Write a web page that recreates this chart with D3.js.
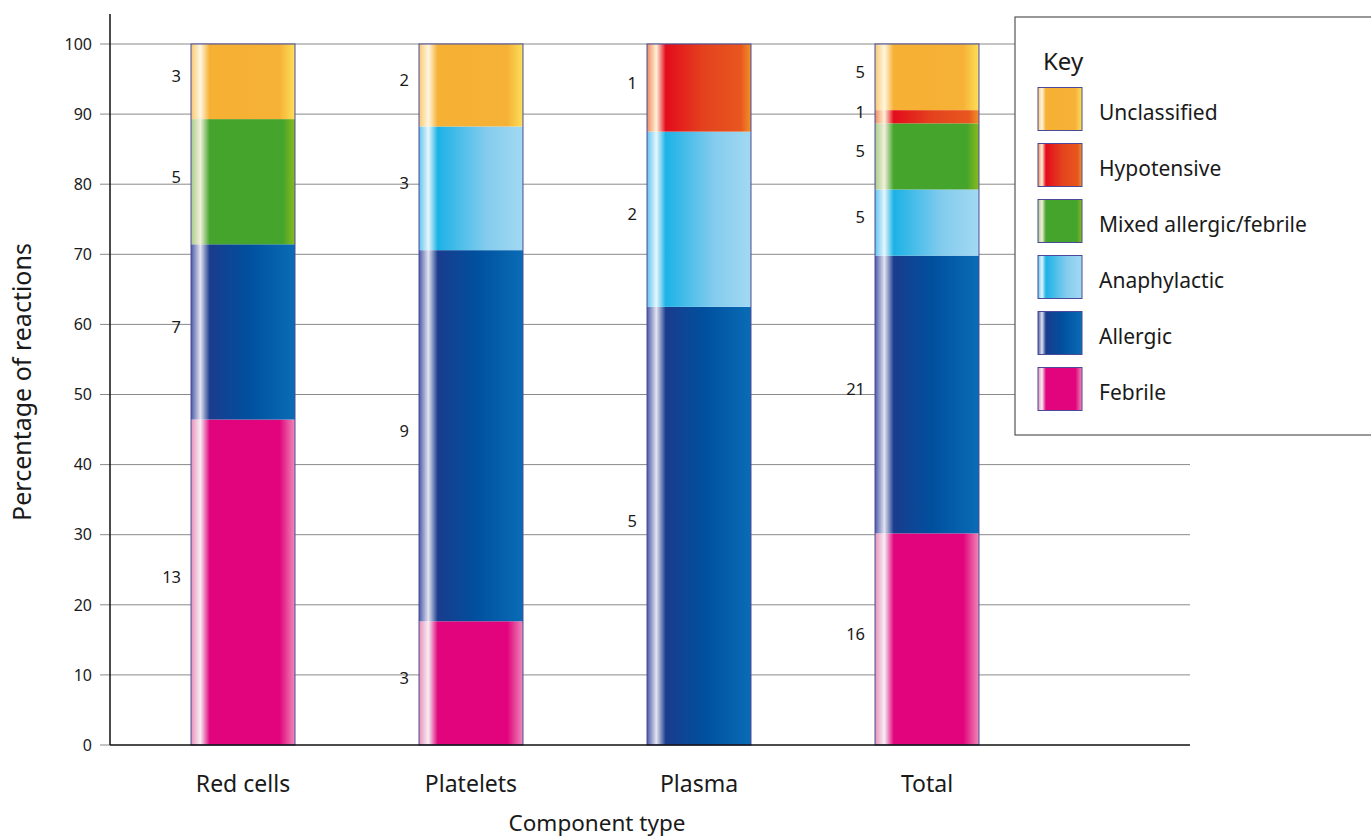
<!DOCTYPE html>
<html>
<head>
<meta charset="utf-8">
<script src="https://cdn.jsdelivr.net/npm/d3@7"></script>
<style>
  body { margin: 0; background: #fff; }
  text { font-family: "Noto Sans", "Open Sans", sans-serif; fill: #1a1a1a; }
</style>
</head>
<body>
<div id="chartRegion"></div>
<script>
/* data (counts of reactions) */
var components = ["Red cells", "Platelets", "Plasma", "Total"];
var reactionTypes = ["Febrile", "Allergic", "Anaphylactic", "Mixed allergic/febrile", "Hypotensive", "Unclassified"];
var febrile      = [13, 3, 0, 16];
var allergic     = [7, 9, 5, 21];
var anaphylactic = [0, 3, 2, 5];
var mixed        = [5, 0, 0, 5];
var hypotensive  = [0, 0, 1, 1];
var unclassified = [3, 2, 0, 5];
var yTicks = [0, 10, 20, 30, 40, 50, 60, 70, 80, 90, 100];

/* colour stops for the shiny bar look, left to right */
var shine = {
  "Febrile":                [["0%", "#e890b8"], ["9%", "#f6eef4"], ["18%", "#e2047c"], ["85%", "#e2047c"], ["100%", "#ee8ab8"]],
  "Allergic":               [["0%", "#4a5aa8"], ["9%", "#e4e4f0"], ["18%", "#1a3c8e"], ["55%", "#00509e"], ["100%", "#0a6cb6"]],
  "Anaphylactic":           [["0%", "#60c4ee"], ["9%", "#e6f6fd"], ["18%", "#1cb2e6"], ["65%", "#84ccee"], ["100%", "#a2d9f2"]],
  "Mixed allergic/febrile": [["0%", "#a8cc88"], ["9%", "#f2f0dc"], ["18%", "#44a42c"], ["88%", "#44a42c"], ["100%", "#8cba1e"]],
  "Hypotensive":            [["0%", "#ee8a60"], ["9%", "#fff2d8"], ["18%", "#e30c1c"], ["55%", "#e4421e"], ["90%", "#e8561e"], ["100%", "#f0922a"]],
  "Unclassified":           [["0%", "#f8c870"], ["9%", "#fff6e0"], ["18%", "#f6b034"], ["85%", "#f6b236"], ["100%", "#fde05a"]]
};

var seriesByType = {
  "Febrile": febrile, "Allergic": allergic, "Anaphylactic": anaphylactic,
  "Mixed allergic/febrile": mixed, "Hypotensive": hypotensive, "Unclassified": unclassified
};

function plotChart() {
  var width = 1371, height = 838;
  var svg = d3.select("#chartRegion").append("svg").attr("width", width).attr("height", height);

  var defs = svg.append("defs");
  reactionTypes.forEach(function(t, i) {
    var g = defs.append("linearGradient").attr("id", "grad" + i)
      .attr("x1", "0%").attr("x2", "100%").attr("y1", "0%").attr("y2", "0%");
    shine[t].forEach(function(s) {
      g.append("stop").attr("offset", s[0]).attr("stop-color", s[1]);
    });
  });

  var x = d3.scaleBand().domain(components).range([129, 1041]).paddingInner(0.544).paddingOuter(0.272);
  var y = d3.scaleLinear().domain([0, 100]).range([745, 44]);

  /* gridlines + ticks */
  svg.append("g").selectAll("line").data(yTicks.slice(1)).enter().append("line")
    .attr("x1", 100).attr("x2", 1190)
    .attr("y1", function(d) { return y(d); }).attr("y2", function(d) { return y(d); })
    .attr("stroke", "#8a8a8a").attr("stroke-width", 1);
  svg.append("line").attr("x1", 100).attr("x2", 110).attr("y1", y(0)).attr("y2", y(0))
    .attr("stroke", "#8a8a8a");

  svg.append("g").selectAll("text").data(yTicks).enter().append("text")
    .attr("x", 92).attr("y", function(d) { return y(d); }).attr("dy", "0.36em")
    .attr("text-anchor", "end").style("font-size", "16px")
    .text(function(d) { return d; });

  /* stack the percentages */
  var rows = components.map(function(c, ci) {
    var row = { component: c };
    var total = 0;
    reactionTypes.forEach(function(t) { total += seriesByType[t][ci]; });
    reactionTypes.forEach(function(t) { row[t] = seriesByType[t][ci] / total * 100; row[t + "_n"] = seriesByType[t][ci]; });
    return row;
  });
  var stacked = d3.stack().keys(reactionTypes)(rows);

  var layers = svg.append("g").selectAll("g").data(stacked).enter().append("g")
    .attr("fill", function(d, i) { return "url(#grad" + i + ")"; });

  layers.selectAll("rect").data(function(d) { return d.filter(function(s) { return s[1] - s[0] > 0; }); })
    .enter().append("rect")
    .attr("x", function(d) { return x(d.data.component); })
    .attr("width", x.bandwidth())
    .attr("y", function(d) { return y(d[1]); })
    .attr("height", function(d) { return y(d[0]) - y(d[1]); });

  /* outline round each bar */
  svg.append("g").selectAll("rect").data(components).enter().append("rect")
    .attr("x", function(d) { return x(d); }).attr("width", x.bandwidth())
    .attr("y", y(100)).attr("height", y(0) - y(100))
    .attr("fill", "none").attr("stroke", "#4a4a96").attr("stroke-width", 1);

  /* count labels left of each segment */
  stacked.forEach(function(layer) {
    var key = layer.key;
    svg.append("g").selectAll("text").data(layer.filter(function(s) { return s[1] - s[0] > 0; }))
      .enter().append("text")
      .attr("x", function(d) { return x(d.data.component) - 10; })
      .attr("y", function(d) { return y((d[0] + d[1]) / 2) - 5; })
      .attr("dy", "0.36em").attr("text-anchor", "end").style("font-size", "16.5px")
      .text(function(d) { return d.data[key + "_n"]; });
  });

  /* axes */
  svg.append("line").attr("x1", 110).attr("x2", 110).attr("y1", 14).attr("y2", y(0))
    .attr("stroke", "#111").attr("stroke-width", 1.5);
  svg.append("line").attr("x1", 110).attr("x2", 1190).attr("y1", y(0)).attr("y2", y(0))
    .attr("stroke", "#111").attr("stroke-width", 1.5);

  svg.append("g").selectAll("text").data(components).enter().append("text")
    .attr("x", function(d) { return x(d) + x.bandwidth() / 2; }).attr("y", 792)
    .attr("text-anchor", "middle").style("font-size", "23px")
    .text(function(d) { return d; });

  svg.append("text").attr("x", 597).attr("y", 831).attr("text-anchor", "middle")
    .style("font-size", "22.5px").text("Component type");
  svg.append("text").attr("transform", "translate(31,382) rotate(-90)").attr("text-anchor", "middle")
    .style("font-size", "25px").text("Percentage of reactions");

  /* key */
  var key = svg.append("g");
  key.append("rect").attr("x", 1015).attr("y", 17).attr("width", 370).attr("height", 418)
    .attr("fill", "#fff").attr("stroke", "#555").attr("stroke-width", 1.2);
  key.append("text").attr("x", 1043).attr("y", 70).style("font-size", "24px").text("Key");
  var legendOrder = reactionTypes.slice().reverse();
  var ly = d3.scalePoint().domain(legendOrder).range([109, 389]);
  var items = key.selectAll("g.item").data(legendOrder).enter().append("g").attr("class", "item");
  items.append("rect").attr("x", 1038).attr("width", 44).attr("height", 43)
    .attr("y", function(d) { return ly(d) - 21.5; })
    .attr("fill", function(d) { return "url(#grad" + reactionTypes.indexOf(d) + ")"; })
    .attr("stroke", "#4a4a96").attr("stroke-width", 1);
  items.append("text").attr("x", 1099).attr("y", function(d) { return ly(d) + 11; })
    .style("font-size", "21px").text(function(d) { return d; });
}

plotChart();
</script>
</body>
</html>
